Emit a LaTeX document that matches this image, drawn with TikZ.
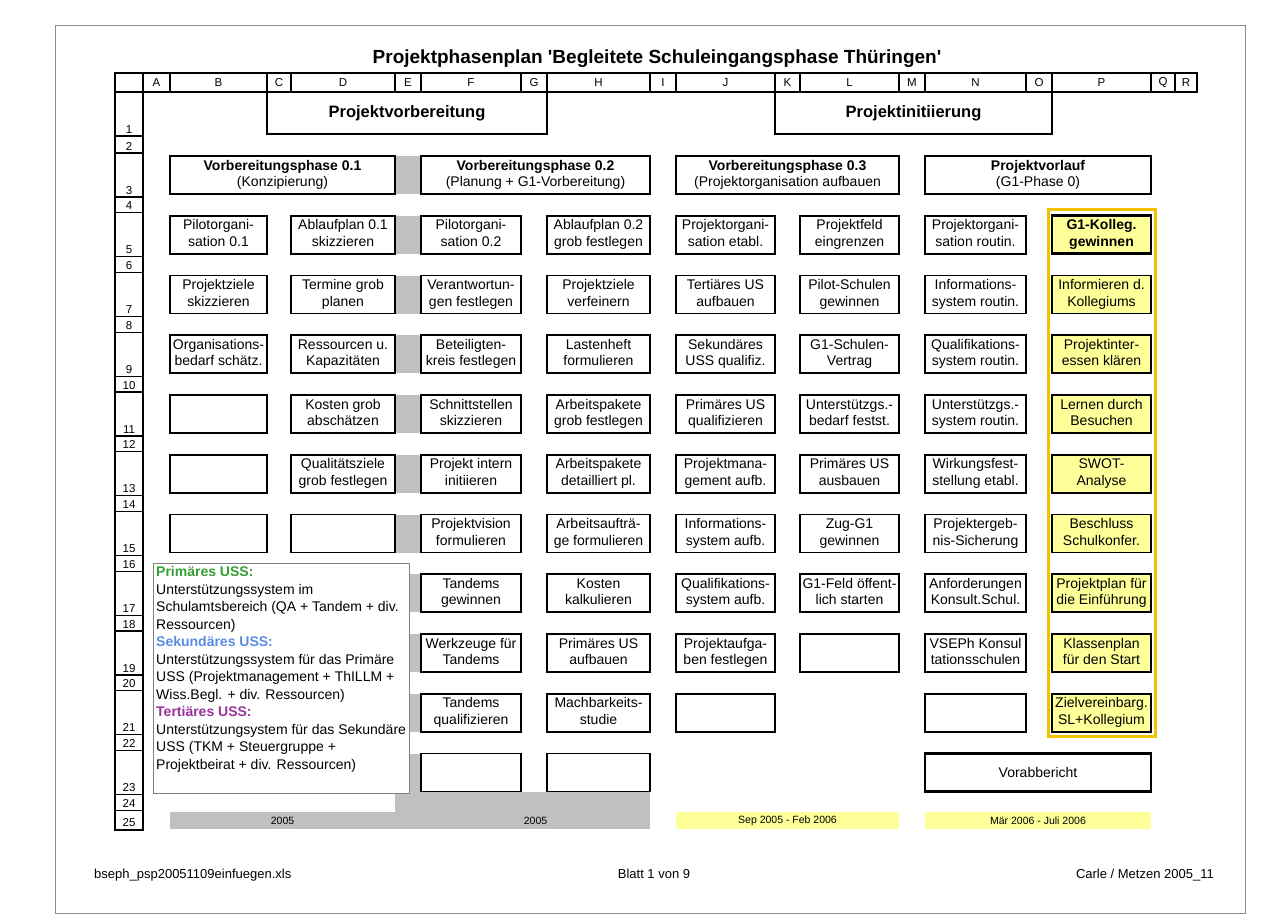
\documentclass[tikz,border=0pt]{standalone}
\usepackage{fontspec}
\setmainfont{Liberation Sans}
\definecolor{yfill}{HTML}{FFFF99}
\definecolor{gframe}{HTML}{F2C200}
\definecolor{grayfill}{HTML}{C0C0C0}
\definecolor{lgreen}{HTML}{33A033}
\definecolor{lblue}{HTML}{5A8CE6}
\definecolor{lpurple}{HTML}{993399}
\newcommand\boxfont{\fontsize{14}{16.5}\selectfont}
\def\xlA{143}\def\xrA{170}
\def\xlB{170}\def\xrB{267}
\def\xlC{267}\def\xrC{291}
\def\xlD{291}\def\xrD{395}
\def\xlE{395}\def\xrE{421}
\def\xlF{421}\def\xrF{521}
\def\xlG{521}\def\xrG{547}
\def\xlH{547}\def\xrH{650}
\def\xlI{650}\def\xrI{676}
\def\xlJ{676}\def\xrJ{775}
\def\xlK{775}\def\xrK{800}
\def\xlL{800}\def\xrL{899}
\def\xlM{899}\def\xrM{925}
\def\xlN{925}\def\xrN{1026}
\def\xlO{1026}\def\xrO{1052}
\def\xlP{1052}\def\xrP{1151}
\def\xlQ{1151}\def\xrQ{1175}
\def\xlR{1175}\def\xrR{1197}
% box spanning columns #3..#4 in odd row #5
\newcommand{\bxs}[6]{%
  \pgfmathsetmacro\myl{\csname xl#3\endcsname}%
  \pgfmathsetmacro\myr{\csname xr#4\endcsname}%
  \pgfmathsetmacro\myt{153+(#5-3)*29.875+3}%
  \pgfmathsetmacro\mycx{(\myl+\myr)/2}%
  \pgfmathsetmacro\mycy{\myt+19}%
  \pgfmathsetmacro\myw{\myr-\myl}%
  \node[#1, minimum width=\myw pt, minimum height=38pt] (#2) at (\mycx,\mycy) {#6};}
\newcommand{\bx}[6]{\bxs{#1}{#2}{#3}{#3}{#4}{\strut#5\\\strut#6}}
\begin{document}
\begin{tikzpicture}[x=1pt,y=-1pt,
  grid/.style={draw=black, line width=1.2pt},
  box/.style={draw=black, line width=1.6pt, fill=white, align=center, inner sep=0pt, font=\boxfont},
  ybox/.style={box, fill=yfill},
  thickbox/.style={box, line width=2.8pt},
  lbl/.style={inner sep=0pt, font=\fontsize{11.5}{14}\selectfont},
  small/.style={inner sep=0pt, font=\fontsize{10.5}{12}\selectfont},
  foot/.style={inner sep=0pt, font=\fontsize{13}{15}\selectfont}]
\useasboundingbox (0,0) rectangle (1287,915);
\fill[white] (0,0) rectangle (1287,915);
% page frame
\draw[draw=black!45, line width=0.8pt] (55,25) rectangle (1245,913);
% title
\node[anchor=base, inner sep=0pt, font=\bfseries\fontsize{19}{22}\selectfont] (title) at (657,64)
  {Projektphasenplan \textquotesingle Begleitete Schuleingangsphase Thüringen\textquotesingle};
% gray fills (column E, year bar)
\foreach \n in {3,5,...,21}{
  \pgfmathsetmacro\myt{153+(\n-3)*29.875+3}
  \fill[grayfill] (395,\myt) rectangle (421,\myt+38);
}
\fill[grayfill] (395,753.5) rectangle (421,811.5);
\fill[grayfill] (395,791.5) rectangle (650,811.5);
\fill[grayfill] (170,811.5) rectangle (650,829);
\node[small] (y1) at (282.5,820.5) {2005};
\node[small] (y2) at (535.5,820.5) {2005};
\fill[yfill] (676,811.5) rectangle (899,829);
\fill[yfill] (925,811.5) rectangle (1151,829);
\node[small] (y3) at (787.5,820.5) {Sep 2005 - Feb 2006};
\node[small] (y4) at (1038,820.5) {Mär 2006 - Juli 2006};
% header row
\draw[grid] (115,73) rectangle (1197,92);
\foreach \c in {A,B,C,D,E,F,G,H,I,J,K,L,M,N,O,P,Q,R}{
  \pgfmathsetmacro\myl{\csname xl\c\endcsname}
  \pgfmathsetmacro\myr{\csname xr\c\endcsname}
  \draw[grid] (\myl,73) -- (\myl,92);
  \node[lbl] (h\c) at ({(\myl+\myr)/2},82.5) {\c};
}
% row number column
\draw[grid] (115,92) rectangle (143,830);
\draw[grid] (115,136) -- (143,136);
\draw[grid] (115,153) -- (143,153);
\node[lbl, anchor=base] (r1) at (129,133) {1};
\node[lbl, anchor=base] (r2) at (129,150) {2};
\foreach \n in {3,5,...,23}{
  \pgfmathsetmacro\myt{153+(\n-3)*29.875}
  \pgfmathtruncatemacro\m{\n+1}
  \draw[grid] (115,\myt+44) -- (143,\myt+44);
  \draw[grid] (115,\myt+59.75) -- (143,\myt+59.75);
  \node[lbl, anchor=base] (r\n) at (129,\myt+41) {\n};
  \node[lbl, anchor=base] (r\m) at (129,\myt+56.75) {\m};
}
\node[lbl, anchor=base] (r25) at (129,826.5) {25};
% row 1
\node[thickbox, minimum width=280pt, minimum height=42pt, font=\bfseries\fontsize{16.5}{19}\selectfont] (pv) at (407,113) {Projektvorbereitung};
\node[thickbox, minimum width=277pt, minimum height=42pt, font=\bfseries\fontsize{16.5}{19}\selectfont] (pi) at (913.5,113) {Projektinitiierung};
% row 3
\bxs{box}{ph1}{B}{D}{3}{\strut\textbf{Vorbereitungsphase 0.1}\\\strut(Konzipierung)}
\bxs{box}{ph2}{F}{H}{3}{\strut\textbf{Vorbereitungsphase 0.2}\\\strut(Planung + G1-Vorbereitung)}
\bxs{box}{ph3}{J}{L}{3}{\strut\textbf{Vorbereitungsphase 0.3}\\\strut(Projektorganisation aufbauen}
\bxs{box}{ph4}{N}{P}{3}{\strut\textbf{Projektvorlauf}\\\strut(G1-Phase 0)}
% yellow frame
\draw[gframe, line width=3pt] (1048,209) rectangle (1155,736);
% row 5
\bx{box}{B5}{B}{5}{Pilotorgani-}{sation 0.1}
\bx{box}{D5}{D}{5}{Ablaufplan 0.1}{skizzieren}
\bx{box}{F5}{F}{5}{Pilotorgani-}{sation 0.2}
\bx{box}{H5}{H}{5}{Ablaufplan 0.2}{grob festlegen}
\bx{box}{J5}{J}{5}{Projektorgani-}{sation etabl.}
\bx{box}{L5}{L}{5}{Projektfeld}{eingrenzen}
\bx{box}{N5}{N}{5}{Projektorgani-}{sation routin.}
\bx{ybox, line width=2.8pt, font=\boxfont\bfseries}{P5}{P}{5}{G1-Kolleg.}{gewinnen}
% row 7
\bx{box}{B7}{B}{7}{Projektziele}{skizzieren}
\bx{box}{D7}{D}{7}{Termine grob}{planen}
\bx{box}{F7}{F}{7}{Verantwortun-}{gen festlegen}
\bx{box}{H7}{H}{7}{Projektziele}{verfeinern}
\bx{box}{J7}{J}{7}{Tertiäres US}{aufbauen}
\bx{box}{L7}{L}{7}{Pilot-Schulen}{gewinnen}
\bx{box}{N7}{N}{7}{Informations-}{system routin.}
\bx{ybox}{P7}{P}{7}{Informieren d.}{Kollegiums}
% row 9
\bx{box}{B9}{B}{9}{Organisations-}{bedarf schätz.}
\bx{box}{D9}{D}{9}{Ressourcen u.}{Kapazitäten}
\bx{box}{F9}{F}{9}{Beteiligten-}{kreis festlegen}
\bx{box}{H9}{H}{9}{Lastenheft}{formulieren}
\bx{box}{J9}{J}{9}{Sekundäres}{USS qualifiz.}
\bx{box}{L9}{L}{9}{G1-Schulen-}{Vertrag}
\bx{box}{N9}{N}{9}{Qualifikations-}{system routin.}
\bx{ybox}{P9}{P}{9}{Projektinter-}{essen klären}
% row 11
\bx{box}{B11}{B}{11}{}{}
\bx{box}{D11}{D}{11}{Kosten grob}{abschätzen}
\bx{box}{F11}{F}{11}{Schnittstellen}{skizzieren}
\bx{box}{H11}{H}{11}{Arbeitspakete}{grob festlegen}
\bx{box}{J11}{J}{11}{Primäres US}{qualifizieren}
\bx{box}{L11}{L}{11}{Unterstützgs.-}{bedarf festst.}
\bx{box}{N11}{N}{11}{Unterstützgs.-}{system routin.}
\bx{ybox}{P11}{P}{11}{Lernen durch}{Besuchen}
% row 13
\bx{box}{B13}{B}{13}{}{}
\bx{box}{D13}{D}{13}{Qualitätsziele}{grob festlegen}
\bx{box}{F13}{F}{13}{Projekt intern}{initiieren}
\bx{box}{H13}{H}{13}{Arbeitspakete}{detailliert pl.}
\bx{box}{J13}{J}{13}{Projektmana-}{gement aufb.}
\bx{box}{L13}{L}{13}{Primäres US}{ausbauen}
\bx{box}{N13}{N}{13}{Wirkungsfest-}{stellung etabl.}
\bx{ybox}{P13}{P}{13}{SWOT-}{Analyse}
% row 15
\bx{box}{B15}{B}{15}{}{}
\bx{box}{D15}{D}{15}{}{}
\bx{box}{F15}{F}{15}{Projektvision}{formulieren}
\bx{box}{H15}{H}{15}{Arbeitsaufträ-}{ge formulieren}
\bx{box}{J15}{J}{15}{Informations-}{system aufb.}
\bx{box}{L15}{L}{15}{Zug-G1}{gewinnen}
\bx{box}{N15}{N}{15}{Projektergeb-}{nis-Sicherung}
\bx{ybox}{P15}{P}{15}{Beschluss}{Schulkonfer.}
% row 17
\bx{box}{F17}{F}{17}{Tandems}{gewinnen}
\bx{box}{H17}{H}{17}{Kosten}{kalkulieren}
\bx{box}{J17}{J}{17}{Qualifikations-}{system aufb.}
\bx{box}{L17}{L}{17}{G1-Feld öffent-}{lich starten}
\bx{box}{N17}{N}{17}{Anforderungen}{Konsult.Schul.}
\bx{ybox}{P17}{P}{17}{Projektplan für}{die Einführung}
% row 19
\bx{box}{F19}{F}{19}{Werkzeuge für}{Tandems}
\bx{box}{H19}{H}{19}{Primäres US}{aufbauen}
\bx{box}{J19}{J}{19}{Projektaufga-}{ben festlegen}
\bx{box}{L19}{L}{19}{}{}
\bx{box}{N19}{N}{19}{VSEPh Konsul}{tationsschulen}
\bx{ybox}{P19}{P}{19}{Klassenplan}{für den Start}
% row 21
\bx{box}{F21}{F}{21}{Tandems}{qualifizieren}
\bx{box}{H21}{H}{21}{Machbarkeits-}{studie}
\bx{box}{J21}{J}{21}{}{}
\bx{box}{N21}{N}{21}{}{}
\bx{ybox}{P21}{P}{21}{Zielvereinbarg.}{SL+Kollegium}
% row 23
\bx{box}{F23}{F}{23}{}{}
\bx{box}{H23}{H}{23}{}{}
\bxs{thickbox}{vb}{N}{P}{23}{Vorabbericht}
% legend
\draw[draw=black!50, line width=1pt, fill=white] (153,563) rectangle (409,793);
\node[anchor=north west, inner sep=0pt, align=left, font=\fontsize{14}{17.5}\selectfont] (legend) at (156,566.5)
{{\color{lgreen}\bfseries Primäres USS:}\\
Unterstützungssystem im\\
Schulamtsbereich (QA + Tandem + div.\\
Ressourcen)\\
{\color{lblue}\bfseries Sekundäres USS:}\\
Unterstützungssystem für das Primäre\\
USS (Projektmanagement + ThILLM +\\
Wiss.Begl. + div. Ressourcen)\\
{\color{lpurple}\bfseries Tertiäres USS:}\\
Unterstützungsystem für das Sekundäre\\
USS (TKM + Steuergruppe +\\
Projektbeirat + div. Ressourcen)};
% footer
\node[foot, anchor=base west] (f1) at (94,878) {bseph\_psp20051109einfuegen.xls};
\node[foot, anchor=base] (f2) at (654,878) {Blatt 1 von 9};
\node[foot, anchor=base east] (f3) at (1214,878) {Carle / Metzen 2005\_11};
\end{tikzpicture}
\end{document}
